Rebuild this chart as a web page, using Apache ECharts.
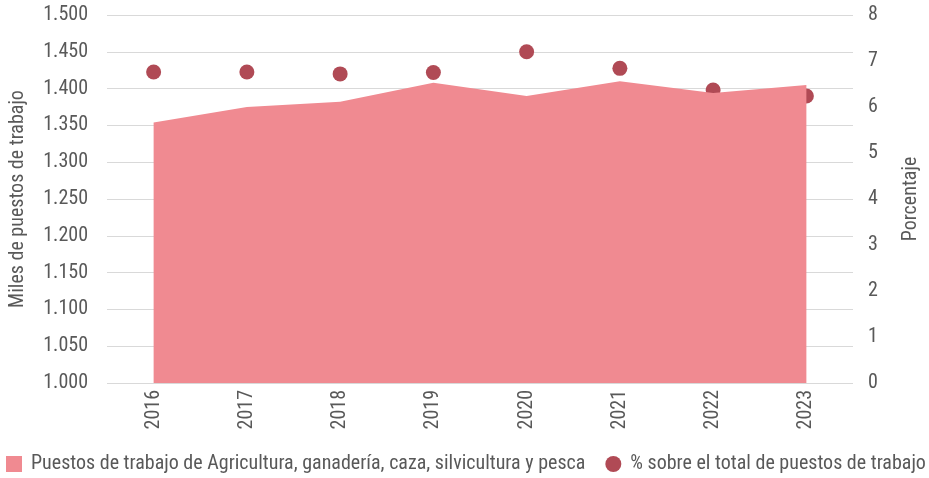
<!DOCTYPE html>
<html>
<head>
<meta charset="utf-8">
<script src="https://cdn.jsdelivr.net/npm/echarts@6/dist/echarts.min.js"></script>
<style>html,body{margin:0;padding:0;background:#fff}#c{width:929px;height:478px}</style>
</head>
<body>
<div id="c"></div>
<script>
const categories = ['2016','2017','2018','2019','2020','2021','2022','2023'];
const puestos = [1354, 1375, 1382, 1408, 1390, 1410, 1394, 1405];
const porcentaje = [6.76, 6.76, 6.72, 6.75, 7.20, 6.84, 6.37, 6.24];
const seriesNames = ['Puestos de trabajo de Agricultura, ganadería, caza, silvicultura y pesca', '% sobre el total de puestos de trabajo'];

const FONT = '"Liberation Sans Narrow", "Roboto Condensed", "DejaVu Sans Condensed", sans-serif';
const TXT = '#595959';
const FS = 20;
const chart = echarts.init(document.getElementById('c'), null, {renderer: 'canvas'});
chart.setOption({
  animation: false,
  textStyle: {fontFamily: FONT, color: TXT},
  grid: {left: 107, right: 76, top: 15, bottom: 95, containLabel: false, outerBoundsMode: 'none'},
  legend: {
    left: 6, top: 454, itemGap: 20, itemWidth: 16, itemHeight: 16, padding: 0,
    textStyle: {fontFamily: FONT, fontSize: FS, color: TXT, padding: [0, 0, 0, 4]},
    data: [{name: seriesNames[0], icon: 'rect'}, {name: seriesNames[1], icon: 'circle'}]
  },
  xAxis: {
    type: 'category', data: categories, boundaryGap: true,
    axisLine: {show: false}, axisTick: {show: false},
    axisLabel: {rotate: 90, fontFamily: FONT, fontSize: FS, color: TXT, margin: 7}
  },
  yAxis: [{
    type: 'value', min: 1000, max: 1500, interval: 50,
    name: 'Miles de puestos de trabajo', nameLocation: 'middle', nameRotate: 90, nameGap: 79,
    nameTextStyle: {fontFamily: FONT, fontSize: FS, color: TXT},
    axisLabel: {fontFamily: FONT, fontSize: FS, color: TXT, margin: 19,
      formatter: v => (v/1000).toFixed(3)},
    splitLine: {lineStyle: {color: '#d9d9d9', width: 1}},
    axisLine: {show: false}, axisTick: {show: false}
  }, {
    type: 'value', min: 0, max: 8, interval: 1, position: 'right',
    name: 'Porcentaje', nameLocation: 'middle', nameRotate: 90, nameGap: 48,
    nameTextStyle: {fontFamily: FONT, fontSize: FS, color: TXT},
    axisLabel: {fontFamily: FONT, fontSize: FS, color: TXT, margin: 15},
    splitLine: {show: false},
    axisLine: {show: false}, axisTick: {show: false}
  }],
  series: [{
    name: seriesNames[0], type: 'line', data: puestos, yAxisIndex: 0,
    symbol: 'none', lineStyle: {width: 0, color: '#f08a91'},
    itemStyle: {color: '#f08a91'},
    areaStyle: {color: '#f08a91', opacity: 1, origin: 'start'}
  }, {
    name: seriesNames[1], type: 'scatter', data: porcentaje, yAxisIndex: 1,
    symbol: 'circle', symbolSize: 15, itemStyle: {color: '#b04a55', opacity: 1}
  }]
});
</script>
</body>
</html>
